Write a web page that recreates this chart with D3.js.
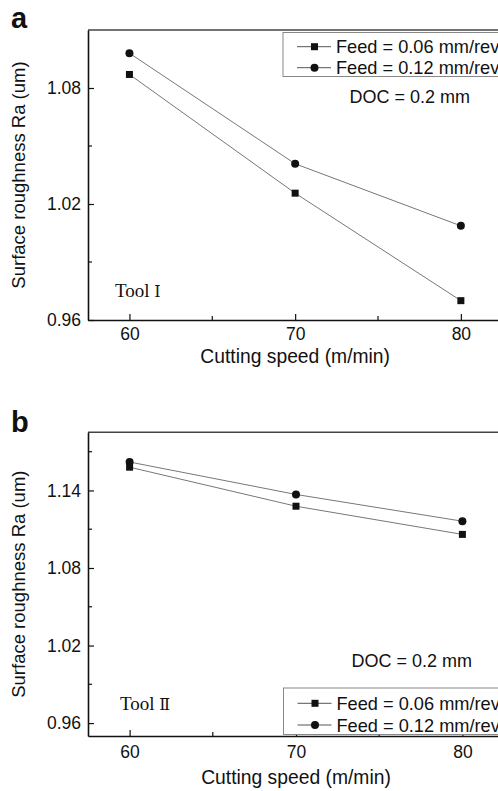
<!DOCTYPE html>
<html>
<head>
<meta charset="utf-8">
<script src="https://cdn.jsdelivr.net/npm/d3@7"></script>
<style>
  html, body { margin: 0; padding: 0; background: #fff; }
  svg { display: block; }
  text { font-family: "Liberation Sans", Arial, sans-serif; fill: #111; }
</style>
</head>
<body>
<svg id="chart" width="498" height="791"></svg>
<script>
// ---- data ----
const speeds = [60, 70, 80];
const seriesNames = ["Feed = 0.06 mm/rev", "Feed = 0.12 mm/rev"];
const toolA_feed006 = [1.087, 1.0256, 0.970];
const toolA_feed012 = [1.098, 1.0408, 1.0087];
const toolB_feed006 = [1.158, 1.1278, 1.106];
const toolB_feed012 = [1.162, 1.1369, 1.1162];
const xMajorTicks = [60, 70, 80];
const xMinorTicks = [65, 75];
const yMajorTicksA = [0.96, 1.02, 1.08];
const yMinorTicksA = [0.99, 1.05];
const yMajorTicksB = [0.96, 1.02, 1.08, 1.14];
const yMinorTicksB = [0.99, 1.05, 1.11, 1.17];
const xTitle = "Cutting speed (m/min)";
const yTitle = "Surface roughness Ra (um)";
const docLabel = "DOC = 0.2 mm";

const svg = d3.select("#chart");

function panel(opts) {
  const {x, y, letter, letterPos, seriesA, seriesB, yMaj, yMin, legendY, legendTop, legendBottom, toolNum, toolPos, docPos, xPad} = opts;
  const g = svg.append("g");
  const [x0, x1] = x.range();
  const [yb, yt] = y.range();

  // top frame
  g.append("line").attr("x1", x0).attr("x2", x1).attr("y1", yt).attr("y2", yt)
    .attr("stroke", "#444").attr("stroke-width", 1.4);

  // y axis
  const yAx = g.append("g").attr("transform", `translate(${x0},0)`)
    .call(d3.axisLeft(y).tickValues(yMaj).tickFormat(d3.format(".2f"))
      .tickSizeInner(-6).tickSizeOuter(0).tickPadding(7));
  yAx.select(".domain").attr("stroke", "#111").attr("stroke-width", 1.6);
  yAx.selectAll(".tick line").attr("stroke", "#111").attr("stroke-width", 1.2);
  yAx.selectAll(".tick text").style("font-size", "17.5px").attr("fill", "#111");
  yMin.forEach(v => g.append("line").attr("x1", x0).attr("x2", x0 + 4)
    .attr("y1", y(v)).attr("y2", y(v)).attr("stroke", "#111").attr("stroke-width", 1.2));

  // x axis
  const xAx = g.append("g").attr("transform", `translate(0,${yb})`)
    .call(d3.axisBottom(x).tickValues(xMajorTicks).tickFormat(d3.format("d"))
      .tickSizeInner(-6).tickSizeOuter(0).tickPadding(xPad));
  xAx.select(".domain").attr("stroke", "#111").attr("stroke-width", 1.6);
  xAx.selectAll(".tick line").attr("stroke", "#111").attr("stroke-width", 1.2);
  xAx.selectAll(".tick text").style("font-size", "17.5px").attr("fill", "#111");
  xMinorTicks.forEach(v => g.append("line").attr("x1", x(v)).attr("x2", x(v))
    .attr("y1", yb).attr("y2", yb - 4).attr("stroke", "#111").attr("stroke-width", 1.2));

  // series
  const line = d3.line().x((d, i) => x(speeds[i])).y(d => y(d));
  [seriesA, seriesB].forEach((s, k) => {
    g.append("path").datum(s).attr("d", line).attr("fill", "none")
      .attr("stroke", "#777").attr("stroke-width", 1);
    s.forEach((v, i) => {
      if (k === 0) {
        g.append("rect").attr("x", x(speeds[i]) - 3.5).attr("y", y(v) - 3.5)
          .attr("width", 7).attr("height", 7).attr("fill", "#111");
      } else {
        g.append("circle").attr("cx", x(speeds[i])).attr("cy", y(v)).attr("r", 4).attr("fill", "#111");
      }
    });
  });

  // legend
  g.append("rect").attr("x", opts.legendX).attr("y", legendTop).attr("width", 260)
    .attr("height", legendBottom - legendTop).attr("fill", "#fff").attr("stroke", "#888").attr("stroke-width", 1);
  seriesNames.forEach((name, k) => {
    const ly = legendY[k];
    g.append("line").attr("x1", opts.legendX + 14).attr("x2", opts.legendX + 48)
      .attr("y1", ly).attr("y2", ly).attr("stroke", "#555").attr("stroke-width", 1);
    const cx = opts.legendX + 31.5;
    if (k === 0) g.append("rect").attr("x", cx - 3.5).attr("y", ly - 3.5).attr("width", 7).attr("height", 7).attr("fill", "#111");
    else g.append("circle").attr("cx", cx).attr("cy", ly).attr("r", 4).attr("fill", "#111");
    g.append("text").attr("x", opts.legendX + 53).attr("y", ly + 6.5)
      .style("font-size", "18.2px").text(name);
  });

  // annotations
  g.append("text").attr("x", docPos[0]).attr("y", docPos[1]).style("font-size", "18px").text(docLabel);
  const t = g.append("text").attr("x", toolPos[0]).attr("y", toolPos[1])
    .style("font-family", "'Liberation Serif', 'Times New Roman', serif").style("font-size", "19px");
  t.append("tspan").text("Tool ");
  t.append("tspan").style("font-family", "'DejaVu Serif', serif").style("font-size", "16px").text(toolNum);

  // titles
  g.append("text").attr("x", (x0 + x1) / 2).attr("y", opts.xTitleY).attr("text-anchor", "middle")
    .style("font-size", "19.3px").text(xTitle);
  g.append("text").attr("transform", `translate(25,${(yb + yt) / 2}) rotate(-90)`).attr("text-anchor", "middle")
    .style("font-size", "18.5px").text(yTitle);

  // panel letter
  g.append("text").attr("x", letterPos[0]).attr("y", letterPos[1])
    .style("font-size", "29px").style("font-weight", "bold").text(letter);
}

panel({
  x: d3.scaleLinear().domain([57.5, 82.5]).range([88, 502.3]),
  y: d3.scaleLinear().domain([0.96, 1.11]).range([320, 30]),
  letter: "a", letterPos: [11, 28],
  seriesA: toolA_feed006, seriesB: toolA_feed012,
  yMaj: yMajorTicksA, yMin: yMinorTicksA,
  legendX: 283, legendTop: 32.5, legendBottom: 76.5, legendY: [46.7, 67.7],
  toolNum: "\u2160", toolPos: [115, 297],
  docPos: [349.5, 102.5], xPad: 8, xTitleY: 363
});

panel({
  x: d3.scaleLinear().domain([57.5, 82.5]).range([88, 504]),
  y: d3.scaleLinear().domain([0.95, 1.185]).range([736, 432.3]),
  letter: "b", letterPos: [11, 431.5],
  seriesA: toolB_feed006, seriesB: toolB_feed012,
  yMaj: yMajorTicksB, yMin: yMinorTicksB,
  legendX: 283.5, legendTop: 688, legendBottom: 734.5, legendY: [703.3, 725],
  toolNum: "\u2161", toolPos: [120, 709.5],
  docPos: [351.5, 667], xPad: 9.5, xTitleY: 783.5
});
</script>
</body>
</html>
